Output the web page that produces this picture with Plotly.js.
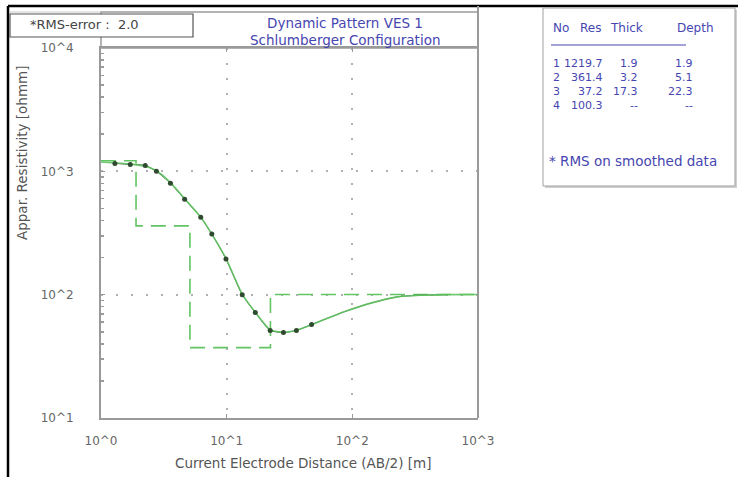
<!DOCTYPE html>
<html>
<head>
<meta charset="utf-8">
<script src="https://cdn.plot.ly/plotly-3.0.1.min.js"></script>
<style>
  html, body { margin: 0; padding: 0; background: #ffffff; }
  #chart { width: 738px; height: 477px; }
</style>
</head>
<body>
<div id="chart"></div>
<script>
// ---- data ----
const layerRes   = [1219.7, 361.4, 37.2, 100.3];
const layerThick = [1.9, 3.2, 17.3];
const layerDepth = [1.9, 5.1, 22.3];

const modelX = [1, 1.29, 1.71, 2.25, 2.76, 3.57, 4.63, 6.22, 7.62, 9.87, 13.3, 16.9, 22.2, 28.3, 35.9, 47.4, 62.5, 87.3, 138, 228, 348, 574, 1000];
const modelY = [1190, 1170, 1145, 1100, 1010, 810, 600, 425, 310, 197, 101, 72, 52, 49.5, 51.5, 57, 64, 73, 85, 96, 99, 100, 100.3];

const obsX = [1.29, 1.71, 2.25, 2.76, 3.57, 4.63, 6.22, 7.62, 9.87, 13.3, 16.9, 22.2, 28.3, 35.9, 47.4];
const obsY = [1160, 1138, 1116, 1000, 800, 594, 425, 310, 195, 100, 71.6, 51.3, 49.4, 51.3, 57.3];

const tailX = [47.4, 62.5, 87.3, 138, 228, 348, 574];
const tailY = [57.3, 64, 73, 85, 96, 99, 100];

const xTickVals = [1, 10, 100, 1000];
const xTickText = ['10^0', '10^1', '10^2', '10^3'];
const yTickVals = [10, 100, 1000, 10000];
const yTickText = ['10^1', '10^2', '10^3', '10^4'];
const yMinorVals = [];
[10, 100, 1000].forEach(d => { for (let k = 2; k <= 9; k++) yMinorVals.push(d * k); });

const titleLines = ['Dynamic Pattern VES 1', 'Schlumberger Configuration'];
const rmsText = '*RMS-error :  2.0';
const xTitle = 'Current Electrode Distance (AB/2) [m]';
const yTitle = 'Appar. Resistivity [ohmm]';
const tableHeader = ['No', 'Res', 'Thick', 'Depth'];
const footnote = '* RMS on smoothed data';

// ---- step model built from layer table ----
const xMax = 1000;
const stepX = [1], stepY = [layerRes[0]];
for (let i = 0; i < layerDepth.length; i++) {
  stepX.push(layerDepth[i]); stepY.push(layerRes[i]);
  stepX.push(layerDepth[i]); stepY.push(layerRes[i + 1]);
}
stepX.push(xMax); stepY.push(layerRes[layerRes.length - 1]);

// ---- geometry helpers (pixel -> paper) ----
const W = 738, H = 477;
const mL = 101, mR = 260, mT = 48, mB = 59;
const pw = W - mL - mR, ph = H - mT - mB;
const px = v => (v - mL) / pw;
const py = v => (H - mB - v) / ph;

const green = '#62c462';
const dark = '#2f4a2f';
const gray = '#9a9a9a';
const blue = '#4646b0';
const font = 'DejaVu Sans, Verdana, sans-serif';

const traces = [
  { x: stepX, y: stepY, type: 'scatter', mode: 'lines',
    line: { color: green, width: 1.6, dash: '15px,8px' }, hoverinfo: 'skip' },
  { x: obsX, y: obsY, type: 'scatter', mode: 'lines',
    line: { color: dark, width: 1, shape: 'spline', smoothing: 0.6 }, hoverinfo: 'skip' },
  { x: tailX, y: tailY, type: 'scatter', mode: 'lines',
    line: { color: dark, width: 1, shape: 'spline', smoothing: 0.6 }, hoverinfo: 'skip' },
  { x: modelX, y: modelY, type: 'scatter', mode: 'lines',
    line: { color: green, width: 1.6, shape: 'spline', smoothing: 0.6 }, opacity: 0.9, hoverinfo: 'skip' },
  { x: obsX, y: obsY, type: 'scatter', mode: 'markers',
    marker: { color: dark, size: 5, symbol: 'circle' }, hoverinfo: 'skip' }
];

const shapes = [];
const annotations = [];
function line(x0, y0, x1, y1, color, width) {
  shapes.push({ type: 'line', xref: 'paper', yref: 'paper', x0: px(x0), x1: px(x1), y0: py(y0), y1: py(y1), line: { color: color, width: width } });
}
function text(x, y, t, size, color, xanchor, angle) {
  annotations.push({ xref: 'paper', yref: 'paper', x: px(x), y: py(y), text: t, showarrow: false,
    xanchor: xanchor || 'center', yanchor: 'middle', textangle: angle || 0,
    font: { family: font, size: size, color: color } });
}
// outer black frame (top and left)
line(8, 6, 738, 6, '#000', 2.5);
line(8, 6, 8, 477, '#000', 2.5);
// title panel
shapes.push({ type: 'rect', xref: 'paper', yref: 'paper', x0: px(101), x1: px(478), y0: py(12), y1: py(48), line: { color: gray, width: 1.5 } });
line(10, 12, 101, 12, '#c8c8c8', 1);
line(478, 6, 478, 418, gray, 2);
// RMS box
shapes.push({ type: 'rect', xref: 'paper', yref: 'paper', x0: px(10), x1: px(193), y0: py(14), y1: py(37), fillcolor: '#fff', line: { color: '#555', width: 1.2 }, layer: 'above' });
// table box with shadow
shapes.push({ type: 'rect', xref: 'paper', yref: 'paper', x0: px(545), x1: px(737), y0: py(10), y1: py(188), fillcolor: '#d0d0d0', line: { width: 0 } });
shapes.push({ type: 'rect', xref: 'paper', yref: 'paper', x0: px(543), x1: px(735), y0: py(8), y1: py(186), fillcolor: '#fff', line: { color: '#a0a0a0', width: 1 } });
line(551, 45, 686, 45, blue, 1);

text(345, 23, titleLines[0], 13.5, blue);
text(345, 40, titleLines[1], 13.5, blue);
text(28, 24, rmsText, 13, '#444', 'left');
text(303, 463, xTitle, 13.5, '#555');
text(22, 153, yTitle, 13.5, '#555', 'center', -90);

// table
const hdrX = [551, 603, 645, 716];
const hdrA = ['left', 'right', 'right', 'right'];
tableHeader.forEach((h, i) => text(hdrX[i], 28, h, 12, blue, hdrA[i]));
const colR = [0, 605, 640, 695];
layerRes.forEach((r, i) => {
  const yy = 63 + i * 14;
  const th = i < layerThick.length ? layerThick[i].toFixed(1) : '--';
  const de = i < layerDepth.length ? layerDepth[i].toFixed(1) : '--';
  text(551, yy, String(i + 1), 11, blue, 'left');
  text(colR[1], yy, r.toFixed(1), 11, blue, 'right');
  text(colR[2], yy, th, 11, blue, 'right');
  text(colR[3], yy, de, 11, blue, 'right');
});
text(547, 161, footnote, 13.5, blue, 'left');

const layout = {
  width: W, height: H,
  margin: { l: mL, r: mR, t: mT, b: mB, pad: 0 },
  paper_bgcolor: '#ffffff', plot_bgcolor: '#ffffff',
  showlegend: false,
  font: { family: font, size: 12, color: '#555' },
  xaxis: {
    type: 'log', range: [0, 3],
    tickmode: 'array', tickvals: xTickVals, ticktext: xTickText,
    ticks: 'inside', ticklen: 4, tickcolor: gray, tickwidth: 1.5,
    showline: true, linecolor: gray, linewidth: 2, mirror: 'ticks',
    showgrid: true, gridcolor: '#b0b0b0', gridwidth: 2, griddash: '2px,13px',
    zeroline: false, ticklabelstandoff: 11,
    tickfont: { family: font, size: 12, color: '#666' }
  },
  yaxis: {
    type: 'log', range: [1, 4],
    tickmode: 'array', tickvals: yTickVals, ticktext: yTickText,
    ticks: 'inside', ticklen: 4, tickcolor: gray, tickwidth: 1.5,
    minor: { tickmode: 'array', tickvals: yMinorVals, ticks: 'inside', ticklen: 3, tickcolor: gray, showgrid: false },
    showline: true, linecolor: gray, linewidth: 2, mirror: false,
    showgrid: true, gridcolor: '#b0b0b0', gridwidth: 2, griddash: '2px,13px',
    zeroline: false, ticklabelstandoff: 23,
    tickfont: { family: font, size: 12, color: '#666' }
  },
  shapes: shapes,
  annotations: annotations
};

Plotly.newPlot('chart', traces, layout, { staticPlot: true, displayModeBar: false });
</script>
</body>
</html>
